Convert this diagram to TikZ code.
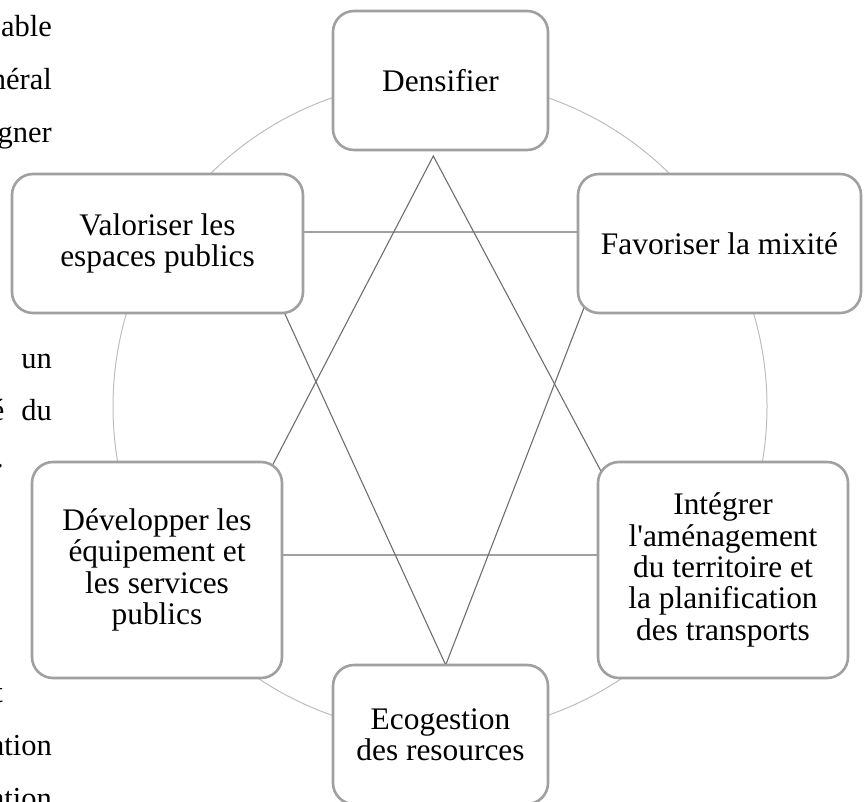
\documentclass[tikz,border=0pt]{standalone}
\usepackage{fontspec}
\setmainfont{Liberation Serif}[Ligatures=NoCommon]
\definecolor{boxgray}{HTML}{A0A0A0}
\definecolor{linegray}{HTML}{6E6E6E}
\definecolor{ringgray}{HTML}{BDBDBD}
\newcommand{\boxfont}{\fontsize{31.4}{31.3}\selectfont}
\newcommand{\fragfont}{\fontsize{30.5}{31}\selectfont}
\begin{document}
\begin{tikzpicture}[x=1pt,y=-1pt,
  box/.style={draw=boxgray, line width=2.6pt, rounded corners=21pt, fill=white,
    align=center, inner sep=0pt, font=\boxfont},
  starline/.style={draw=linegray, line width=1.1pt},
  ring/.style={draw=ringgray, line width=1pt},
  frag/.style={anchor=base east, inner sep=0pt, font=\fragfont}]
\useasboundingbox (0,0) rectangle (864,801);
\clip (0,0) rectangle (864,801);
% background text fragments
\node[frag] (f1) at (52,36) {able};
\node[frag] (f2) at (52,89) {néral};
\node[frag] (f3) at (52,142) {gner};
\node[frag] (f4) at (52,368) {un};
\node[frag] (f5) at (52,420) {é\hspace*{17pt}du};
\node[frag] (f6) at (4,467) {.};
\node[frag] (f7) at (3,702) {t};
\node[frag] (f8) at (52,755) {ation};
\node[frag] (f9) at (52,808) {ation};
% ring
\node[ring, circle, minimum size=654pt, inner sep=0pt] (ring) at (440,406.5) {};
% star lines
\coordinate (a1) at (433.3,156);
\coordinate (a2) at (225.8,555);
\coordinate (a3) at (645.6,555);
\coordinate (b1) at (445.7,665);
\coordinate (b2) at (247.4,232);
\coordinate (b3) at (613.3,232);
\draw[starline] (a1) -- (a2) -- (a3) -- cycle;
\draw[starline] (b1) -- (b2) -- (b3) -- cycle;
% boxes
\node[box, minimum width=215pt, minimum height=139pt] (dens) at (440.5,80.5) {Densifier};
\node[box, minimum width=291pt, minimum height=139pt] (valo) at (157.5,243.5) {Valoriser les\\espaces publics};
\node[box, minimum width=283pt, minimum height=139pt] (favo) at (719.5,243.5) {Favoriser la mixité};
\node[box, minimum width=250pt, minimum height=216pt] (deve) at (157,570) {Développer les\\équipement et\\les services\\publics};
\node[box, minimum width=250pt, minimum height=216pt] (integ) at (723,570) {Intégrer\\l\textquotesingle aménagement\\du territoire et\\la planification\\des transports};
\node[box, minimum width=215pt, minimum height=139pt] (eco) at (440.5,734.5) {Ecogestion\\des resources};
\end{tikzpicture}
\end{document}
